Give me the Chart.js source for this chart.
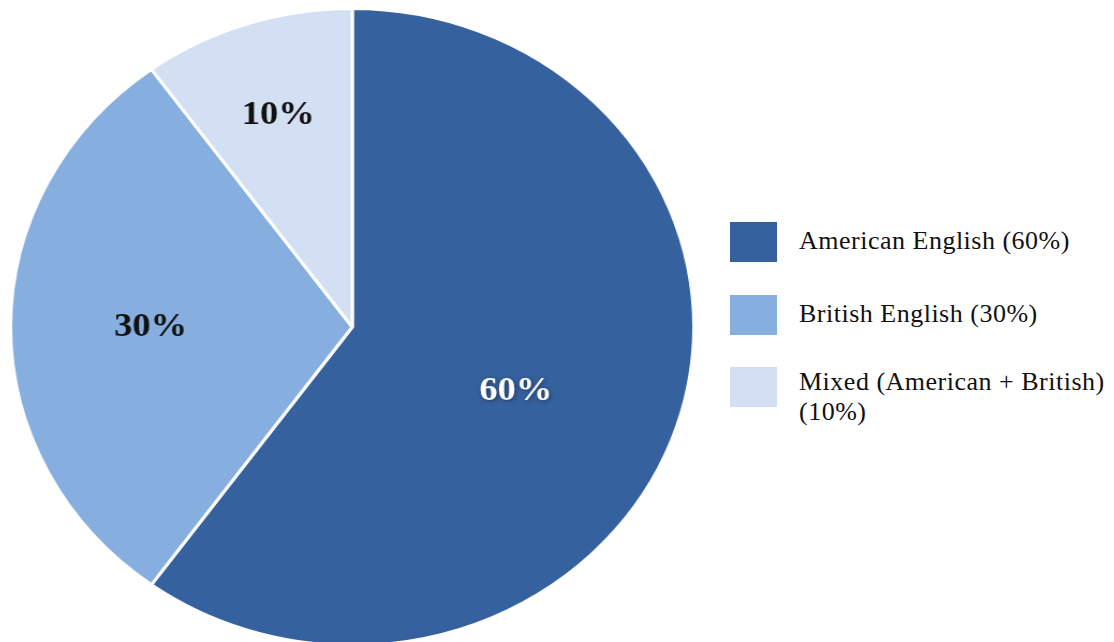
<!DOCTYPE html>
<html>
<head>
<meta charset="utf-8">
<script src="https://cdn.jsdelivr.net/npm/chart.js@4.4.1/dist/chart.umd.min.js"></script>
<style>
    body { margin: 0; background: #ffffff; width: 1114px; height: 642px; overflow: hidden; position: relative; }
    #pie-wrap { position: absolute; left: 9px; top: 7px; width: 640px; height: 640px; transform: scaleX(1.0726); transform-origin: 0 0; }
    #legenda { position: absolute; left: 730px; top: 222px; font-family: "Liberation Serif", "Times New Roman", serif; font-size: 26px; letter-spacing: 0.5px; color: #111; }
    .item { position: absolute; left: 0; white-space: nowrap; }
    .caixa { position: absolute; left: 0; width: 47px; height: 40px; }
    .texto { position: absolute; left: 69px; line-height: 30px; }
</style>
</head>
<body>
<div id="pie-wrap"><canvas id="grafico-pizza"></canvas></div>
<div id="legenda"></div>
<script>
// Dados do gráfico
const categorias = ['American English', 'British English', 'Mixed (American + British)'];
const valores = [60, 30, 10];
const rotulos = ['60%', '30%', '10%'];
const legendaTextos = ['American English (60%)', 'British English (30%)', 'Mixed (American + British)<br>(10%)'];

const cores = ['#36619f', '#86aede', '#d3dff2'];
const corTexto = ['#ffffff', '#111111', '#111111'];
const raioRotulo = [0.52, 0.59, 0.7]; // fração do raio onde fica cada rótulo
const desvioAngulo = [5, 0, 0]; // graus, ajuste fino da posição

// Plugin simples para escrever as porcentagens dentro das fatias
const rotulosPlugin = {
    id: 'rotulosFatias',
    afterDatasetsDraw(chart) {
        const ctx = chart.ctx;
        const meta = chart.getDatasetMeta(0);
        meta.data.forEach((arc, i) => {
            const meio = (arc.startAngle + arc.endAngle) / 2 + desvioAngulo[i] * Math.PI / 180;
            const r = arc.outerRadius * raioRotulo[i];
            const x = arc.x + Math.cos(meio) * r;
            const y = arc.y + Math.sin(meio) * r;
            ctx.save();
            ctx.font = 'bold 34px "Liberation Serif", serif';
            ctx.textAlign = 'center';
            ctx.textBaseline = 'middle';
            if (i === 0) {
                ctx.shadowColor = 'rgba(0,0,0,0.45)';
                ctx.shadowBlur = 4;
                ctx.shadowOffsetX = 1;
                ctx.shadowOffsetY = 1;
            }
            ctx.fillStyle = corTexto[i];
            ctx.fillText(rotulos[i], x, y);
            ctx.restore();
        });
    }
};

const ctx = document.getElementById('grafico-pizza').getContext('2d');
new Chart(ctx, {
    type: 'pie',
    data: {
        labels: categorias,
        datasets: [{
            data: valores,
            backgroundColor: cores,
            borderColor: '#ffffff',
            borderWidth: 3
        }]
    },
    options: {
        responsive: true,
        maintainAspectRatio: false,
        animation: false,
        layout: { padding: 0 },
        plugins: {
            legend: { display: false },
            tooltip: { enabled: false }
        }
    },
    plugins: [rotulosPlugin]
});

// Legenda montada à mão
const legenda = document.getElementById('legenda');
const topos = [0, 73, 145];
const toposTexto = [4, 77, 145];
categorias.forEach((c, i) => {
    const item = document.createElement('div');
    item.className = 'item';
    item.style.top = topos[i] + 'px';
    item.innerHTML = `<div class="caixa" style="background:${cores[i]}"></div>` +
        `<div class="texto" style="top:${toposTexto[i] - topos[i]}px">${legendaTextos[i]}</div>`;
    legenda.appendChild(item);
});
</script>
</body>
</html>
